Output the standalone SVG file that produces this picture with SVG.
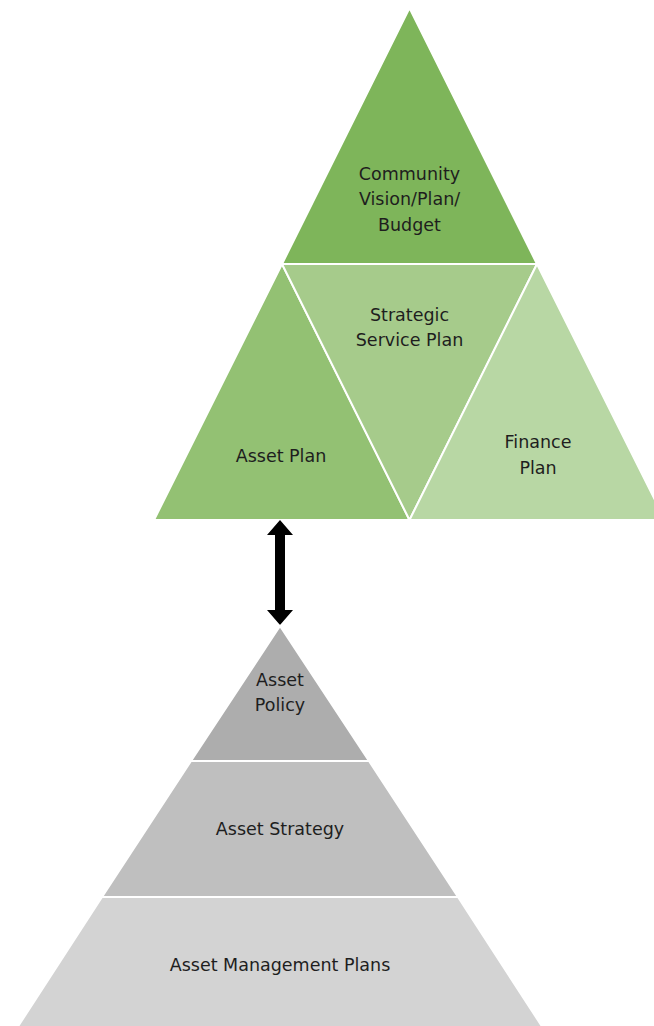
<svg xmlns="http://www.w3.org/2000/svg" width="654" height="1026" viewBox="0 0 654 1026">
<style>
.s{stroke:#ffffff;stroke-width:2;stroke-linejoin:miter}
.t{font-family:"DejaVu Sans","Open Sans",sans-serif;font-size:17.5px;fill:#1e1e1e;text-anchor:middle}
</style>
<rect width="654" height="1026" fill="#ffffff"/>
<g id="community">
<polygon class="s" points="409.5,8 282,264 537,264" fill="#7eb55a"/>
<text class="t" x="409.5" y="180">Community</text>
<text class="t" x="409.5" y="205">Vision/Plan/</text>
<text class="t" x="409.5" y="231">Budget</text>
</g>
<g id="asset-plan">
<polygon class="s" points="282,264 154,520 409.5,520" fill="#93c173"/>
<text class="t" x="281" y="462">Asset Plan</text>
</g>
<g id="strategic">
<polygon class="s" points="282,264 537,264 409.5,520" fill="#a6cb8b"/>
<text class="t" x="409.5" y="321">Strategic</text>
<text class="t" x="409.5" y="346">Service Plan</text>
</g>
<g id="finance">
<polygon class="s" points="537,264 409.5,520 665,520" fill="#b8d7a4"/>
<text class="t" x="538" y="448">Finance</text>
<text class="t" x="538" y="474">Plan</text>
</g>
<g id="connectors">
<polygon points="280,520 293,535 285,535 285,610 293,610 280,625 267,610 275,610 275,535 267,535" fill="#000000"/>
</g>
<g id="asset-policy">
<polygon class="s" points="280,626 191,761 369,761" fill="#adadad"/>
<text class="t" x="280" y="686">Asset</text>
<text class="t" x="280" y="711">Policy</text>
</g>
<g id="asset-strategy">
<polygon class="s" points="191,761 369,761 458,897 102,897" fill="#bfbfbf"/>
<text class="t" x="280" y="835">Asset Strategy</text>
</g>
<g id="amp">
<polygon class="s" points="102,897 458,897 543,1028 17,1028" fill="#d3d3d3"/>
<text class="t" x="280" y="971">Asset Management Plans</text>
</g>
</svg>
